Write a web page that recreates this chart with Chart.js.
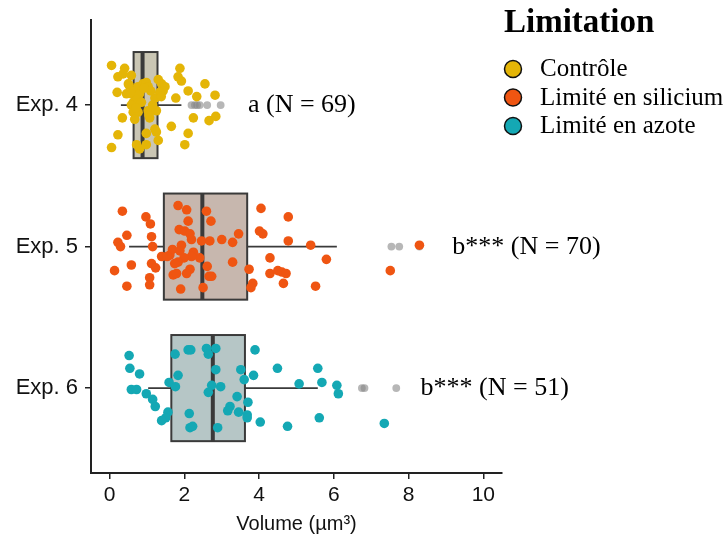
<!DOCTYPE html>
<html>
<head>
<meta charset="utf-8">
<script src="https://cdn.jsdelivr.net/npm/chart.js@4.4.0/dist/chart.umd.min.js"></script>
<style>
  html, body { margin: 0; padding: 0; background: #fff; }
  #wrap { width: 727px; height: 540px; }
</style>
</head>
<body>
<div id="wrap"><canvas id="volumeChart"></canvas></div>
<script>
const experiments = ['Exp. 4', 'Exp. 5', 'Exp. 6'];
const limitations = ['Contrôle', 'Limité en silicium', 'Limité en azote'];
const groupLabels = ['a (N = 69)', 'b*** (N = 70)', 'b*** (N = 51)'];
const xTicks = [0, 2, 4, 6, 8, 10];

// box plot stats, µm³
const q1 = [0.64, 1.45, 1.65];
const median = [0.88, 2.48, 2.76];
const q3 = [1.28, 3.68, 3.62];
const whiskerLow = [0.30, 0.52, 1.03];
const whiskerHigh = [1.92, 6.08, 5.57];

// fliers drawn by the box plot
const exp4Fliers = [2.19, 2.28, 2.34, 2.41, 2.61, 2.97];
const exp5Fliers = [7.54, 7.75, 8.29];
const exp6Fliers = [6.75, 6.82, 7.67];

// individual cells: volume + vertical jitter (fraction of a row)
const exp4Volume = [0.05, 0.40, 0.22, 0.36, 0.58, 0.52, 0.76, 0.89, 0.98, 1.03,
  0.63, 0.20, 0.45, 0.58, 0.80, 0.63, 0.72, 0.58, 1.30, 1.39,
  1.48, 1.43, 1.34, 1.21, 1.88, 1.83, 1.92, 2.55, 2.10, 2.82,
  2.33, 1.77, 0.63, 0.76, 1.03, 1.25, 0.34, 0.67, 1.07, 2.24,
  2.66, 2.84, 1.65, 1.21, 1.25, 0.22, 0.98, 2.10, 1.30, 0.05,
  0.72, 0.80, 0.98, 2.01, 0.85, 1.10, 0.70, 1.15, 0.92, 1.38,
  0.50, 1.05];
const exp4Jitter = [-0.28, -0.26, -0.20, -0.22, -0.21, -0.14, -0.13, -0.15, -0.16, -0.13,
  -0.10, -0.09, -0.08, -0.08, -0.08, -0.02, -0.04, 0.00, -0.18, -0.15,
  -0.13, -0.10, -0.09, -0.05, -0.26, -0.20, -0.17, -0.15, -0.10, -0.07,
  -0.06, -0.05, 0.05, 0.05, 0.04, 0.04, 0.09, 0.10, 0.09, 0.09,
  0.11, 0.08, 0.15, 0.17, 0.19, 0.21, 0.20, 0.20, 0.25, 0.30,
  0.28, 0.31, 0.28, 0.28, -0.02, -0.10, 0.02, 0.00, -0.12, -0.06,
  -0.15, 0.07];

const exp5Volume = [0.34, 0.97, 1.09, 0.46, 0.22, 0.29, 1.12, 1.15, 1.39, 1.61,
  0.13, 0.58, 1.12, 1.23, 1.07, 1.07, 0.46, 1.83, 2.06, 2.59,
  2.10, 2.71, 1.86, 2.01, 2.15, 2.19, 2.46, 2.68, 3.00, 3.29,
  3.45, 1.68, 1.92, 1.88, 2.24, 2.41, 2.19, 1.99, 1.83, 2.15,
  2.06, 1.70, 1.79, 2.61, 2.66, 2.73, 1.90, 2.50, 3.29, 4.05,
  4.78, 4.01, 4.10, 4.78, 5.38, 5.80, 4.29, 3.73, 4.29, 4.50,
  4.61, 4.72, 4.65, 3.83, 3.78, 5.51, 7.51, 8.29, 1.54, 1.74];
const exp5Jitter = [-0.25, -0.21, -0.16, -0.08, -0.03, 0.00, -0.07, 0.00, 0.07, 0.06,
  0.17, 0.13, 0.12, 0.15, 0.22, 0.27, 0.28, -0.29, -0.26, -0.25,
  -0.18, -0.18, -0.12, -0.11, -0.09, -0.05, -0.04, -0.04, -0.05, -0.03,
  -0.09, 0.02, -0.01, 0.03, 0.04, 0.08, 0.07, 0.08, 0.11, 0.16,
  0.19, 0.20, 0.19, 0.14, 0.21, 0.21, 0.30, 0.29, 0.11, -0.27,
  -0.21, -0.11, -0.09, -0.04, -0.01, 0.09, 0.08, 0.16, 0.19, 0.17,
  0.18, 0.19, 0.26, 0.26, 0.29, 0.28, 0.17, -0.01, 0.07, 0.12];

const exp6Volume = [0.52, 0.54, 0.80, 0.58, 0.72, 0.98, 1.15, 1.22, 1.56, 1.50,
  1.39, 1.75, 2.10, 2.17, 2.59, 2.64, 2.84, 1.83, 1.59, 1.76,
  2.84, 2.73, 2.64, 2.97, 3.51, 3.60, 3.85, 3.41, 3.70, 3.22,
  3.16, 3.45, 3.68, 3.68, 2.13, 2.15, 2.22, 2.89, 3.89, 4.49,
  5.57, 5.07, 5.68, 6.08, 6.12, 4.03, 4.76, 5.61, 7.35];
const exp6Jitter = [-0.23, -0.14, -0.10, 0.01, 0.01, 0.04, 0.08, 0.13, 0.17, 0.21,
  0.23, -0.24, -0.27, -0.27, -0.28, -0.24, -0.28, -0.09, -0.04, -0.01,
  -0.13, -0.02, 0.03, -0.01, -0.13, -0.06, -0.09, 0.06, 0.10, 0.13,
  0.16, 0.17, 0.19, 0.21, 0.18, 0.28, 0.27, 0.28, -0.27, -0.14,
  -0.14, -0.03, -0.04, -0.02, 0.04, 0.24, 0.27, 0.21, 0.25];

const pointColors = ['#e4b507', '#ef5512', '#14a8b4'];
const boxFills = ['#cac6b4', '#c7b7ae', '#b6c6c6'];
const edgeColor = '#3a3a3a';
const serif = '"Liberation Serif", "Times New Roman", serif';
const sans = '"Liberation Sans", Arial, sans-serif';

function stripData(values, jitter, row) {
  return values.map((v, k) => ({ x: v, y: row + jitter[k] }));
}

const datasets = [
  { label: limitations[0], data: stripData(exp4Volume, exp4Jitter, 0), backgroundColor: pointColors[0] },
  { label: limitations[1], data: stripData(exp5Volume, exp5Jitter, 1), backgroundColor: pointColors[1] },
  { label: limitations[2], data: stripData(exp6Volume, exp6Jitter, 2), backgroundColor: pointColors[2] },
  {
    label: 'fliers',
    data: [exp4Fliers, exp5Fliers, exp6Fliers].flatMap((vals, row) => vals.map(v => ({ x: v, y: row }))),
    backgroundColor: 'rgba(135, 135, 135, 0.6)',
    pointRadius: 3.9
  }
].map(ds => Object.assign({ pointRadius: 4.8, borderWidth: 0, pointHoverRadius: 4.8 }, ds));

const BOX_HALF = 0.375;

// draws boxes + whiskers under the strip points
const boxPlugin = {
  id: 'boxes',
  beforeDatasetsDraw(chart) {
    const { ctx, scales: { x, y } } = chart;
    ctx.save();
    experiments.forEach((_, i) => {
      const top = y.getPixelForValue(i - BOX_HALF);
      const bottom = y.getPixelForValue(i + BOX_HALF);
      const cy = y.getPixelForValue(i);
      const left = x.getPixelForValue(q1[i]);
      const right = x.getPixelForValue(q3[i]);

      ctx.strokeStyle = edgeColor;
      ctx.lineWidth = 1.6;
      ctx.beginPath();
      ctx.moveTo(x.getPixelForValue(whiskerLow[i]), cy);
      ctx.lineTo(left, cy);
      ctx.moveTo(right, cy);
      ctx.lineTo(x.getPixelForValue(whiskerHigh[i]), cy);
      ctx.stroke();

      ctx.fillStyle = boxFills[i];
      ctx.fillRect(left, top, right - left, bottom - top);
      ctx.lineWidth = 2;
      ctx.strokeRect(left, top, right - left, bottom - top);

      const mx = x.getPixelForValue(median[i]);
      ctx.lineWidth = 4;
      ctx.beginPath();
      ctx.moveTo(mx, top);
      ctx.lineTo(mx, bottom);
      ctx.stroke();
    });
    ctx.restore();
  }
};

// significance labels and the legend block
const labelAnchors = [3.70, 9.17, 8.32];
const textPlugin = {
  id: 'texts',
  afterDraw(chart) {
    const { ctx, scales: { x, y } } = chart;
    ctx.save();
    ctx.fillStyle = '#000';
    ctx.textAlign = 'left';
    ctx.textBaseline = 'alphabetic';
    ctx.font = '26px ' + serif;
    groupLabels.forEach((txt, i) => {
      ctx.fillText(txt, x.getPixelForValue(labelAnchors[i]), y.getPixelForValue(i) + 7);
    });

    const lx = chart.chartArea.right + 2;
    ctx.font = 'bold 33px ' + serif;
    ctx.fillText('Limitation', lx, 32);
    ctx.font = '25px ' + serif;
    limitations.forEach((name, i) => {
      const cy = 69 + i * 28.5;
      ctx.beginPath();
      ctx.arc(lx + 9, cy, 8.5, 0, Math.PI * 2);
      ctx.fillStyle = pointColors[i];
      ctx.fill();
      ctx.lineWidth = 1.5;
      ctx.strokeStyle = '#111';
      ctx.stroke();
      ctx.fillStyle = '#000';
      ctx.fillText(name, lx + 36, cy + 7);
    });
    ctx.restore();
  }
};

new Chart(document.getElementById('volumeChart'), {
  type: 'scatter',
  data: { datasets: datasets },
  options: {
    responsive: true,
    maintainAspectRatio: false,
    animation: false,
    layout: { padding: { top: 20, right: 225, left: 0, bottom: 0 } },
    plugins: {
      legend: { display: false },
      tooltip: { enabled: false }
    },
    scales: {
      x: {
        type: 'linear',
        min: -0.5,
        max: 10.5,
        afterBuildTicks: s => { s.ticks = xTicks.map(v => ({ value: v })); },
        afterFit: s => { s.height = 67; },
        grid: { drawOnChartArea: false, tickLength: 6, color: '#222', lineWidth: 1.5 },
        border: { display: true, color: '#222', width: 2 },
        ticks: { font: { family: sans, size: 21 }, color: '#111', padding: 4, maxRotation: 0 },
        title: {
          display: true,
          text: 'Volume (µm³)',
          font: { family: sans, size: 20 },
          color: '#111',
          padding: { top: 0, bottom: 4 }
        }
      },
      y: {
        type: 'linear',
        min: -0.6,
        max: 2.6,
        reverse: true,
        afterBuildTicks: s => { s.ticks = experiments.map((_, i) => ({ value: i })); },
        afterFit: s => { s.width = 91; },
        grid: { drawOnChartArea: false, tickLength: 6, color: '#222', lineWidth: 1.5 },
        border: { display: true, color: '#222', width: 2 },
        ticks: {
          font: { family: sans, size: 22 },
          color: '#111',
          padding: 7,
          callback: v => experiments[v]
        }
      }
    }
  },
  plugins: [boxPlugin, textPlugin]
});
</script>
</body>
</html>
